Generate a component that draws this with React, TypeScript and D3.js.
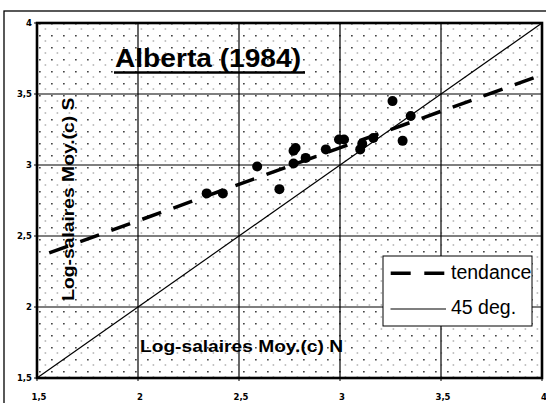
import React from "react";
import * as d3 from "d3";

const logN = [2.34, 2.42, 2.59, 2.70, 2.77, 2.77, 2.78, 2.83, 2.93, 2.995, 3.02, 3.10, 3.11, 3.165, 3.26, 3.35, 3.31];
const logS = [2.80, 2.80, 2.99, 2.83, 3.01, 3.10, 3.12, 3.05, 3.11, 3.18, 3.18, 3.11, 3.15, 3.19, 3.45, 3.345, 3.17];
const trendX = [1.5, 4];
const trendY = [2.35, 3.635];
const diagX = [1.5, 4];
const diagY = [1.5, 4];
const tickValues = [1.5, 2, 2.5, 3, 3.5, 4];
const tickLabels = ["1,5", "2", "2,5", "3", "3,5", "4"];
const title = "Alberta (1984)";
const xTitle = "Log-salaires Moy.(c) N";
const yTitle = "Log-salaires Moy.(c) S";
const legendLabels = ["tendance", "45 deg."];

export default function App() {
  const x = d3.scaleLinear().domain([1.5, 4]).range([37, 542]);
  const y = d3.scaleLinear().domain([1.5, 4]).range([378, 23]);
  const line = d3
    .line<[number, number]>()
    .x((d) => x(d[0]))
    .y((d) => y(d[1]));
  const trend = trendX.map((v, i) => [v, trendY[i]] as [number, number]);
  const diag = diagX.map((v, i) => [v, diagY[i]] as [number, number]);
  const sans = "'Liberation Sans', Arial, sans-serif";
  const tickFont = "'DejaVu Sans', Verdana, sans-serif";

  return (
    <svg
      width={546}
      height={403}
      style={{ position: "absolute", left: 0, top: 0, background: "#fff" }}
    >
      <defs>
        <pattern id="dots" patternUnits="userSpaceOnUse" x={37} y={23} width={12} height={12}>
          <rect x={2} y={-0.2} width={1.7} height={1.7} fill="#444" />
          <rect x={7.6} y={5.5} width={1.6} height={1} fill="#888" />
        </pattern>
      </defs>
      <rect x={4} y={11} width={700} height={600} fill="none" stroke="#000" strokeWidth={1.3} />
      {/* plot area */}
      <rect x={37} y={23} width={505} height={355} fill="#fff" />
      <rect x={37} y={23} width={505} height={355} fill="url(#dots)" />
      {/* gridlines */}
      {tickValues.slice(1, -1).map((v, i) => (
        <g key={"g" + i}>
          <line x1={x(v)} x2={x(v)} y1={23} y2={378} stroke="#000" strokeWidth={1.2} />
          <line x1={37} x2={542} y1={y(v)} y2={y(v)} stroke="#000" strokeWidth={1.2} />
        </g>
      ))}
      {/* 45 deg line */}
      <path d={line(diag) || ""} fill="none" stroke="#000" strokeWidth={1.2} />
      {/* trend */}
      <path
        d={line(trend) || ""}
        fill="none"
        stroke="#000"
        strokeWidth={3.5}
        strokeDasharray="20 13"
        strokeDashoffset={20}
      />
      {/* points */}
      {logN.map((v, i) => (
        <circle key={"p" + i} cx={x(v)} cy={y(logS[i])} r={5} fill="#000" />
      ))}
      {/* border */}
      <rect x={37} y={23} width={505} height={355} fill="none" stroke="#000" strokeWidth={2.6} />
      {/* ticks */}
      {tickValues.map((v, i) => (
        <g key={"t" + i}>
          <line x1={34} x2={37} y1={y(v)} y2={y(v)} stroke="#000" strokeWidth={1} />
          <line x1={x(v)} x2={x(v)} y1={378} y2={381} stroke="#000" strokeWidth={1} />
          <text
            x={32}
            y={y(v)}
            dy="0.35em"
            textAnchor="end"
            fontFamily={tickFont}
            fontWeight="bold"
            fontSize={8.5}
          >
            {tickLabels[i]}
          </text>
          <text
            x={x(v) + 2}
            y={399.5}
            textAnchor="middle"
            fontFamily={tickFont}
            fontWeight="bold"
            fontSize={8.5}
          >
            {tickLabels[i]}
          </text>
        </g>
      ))}
      {/* title */}
      <text
        x={115}
        y={67.3}
        fontFamily={sans}
        fontWeight="bold"
        fontSize={26.5}
        textLength={186}
        lengthAdjust="spacingAndGlyphs"
      >
        {title}
      </text>
      <line x1={114} x2={305} y1={72.5} y2={72.5} stroke="#000" strokeWidth={2.6} />
      {/* axis titles */}
      <text
        x={140}
        y={351.7}
        fontFamily={sans}
        fontWeight="bold"
        fontSize={17}
        textLength={203}
        lengthAdjust="spacingAndGlyphs"
      >
        {xTitle}
      </text>
      <text
        transform="translate(74,300.7) rotate(-90)"
        x={0}
        y={0}
        fontFamily={sans}
        fontWeight="bold"
        fontSize={17}
        textLength={203}
        lengthAdjust="spacingAndGlyphs"
      >
        {yTitle}
      </text>
      {/* legend */}
      <rect x={383} y={256} width={149} height={70} fill="#fff" stroke="#000" strokeWidth={1} />
      <line
        x1={390.7}
        x2={444.3}
        y1={273.3}
        y2={273.3}
        stroke="#000"
        strokeWidth={3.4}
        strokeDasharray="20 13.6 20"
      />
      <line x1={390.5} x2={446} y1={309} y2={309} stroke="#000" strokeWidth={1.2} />
      <text x={451} y={278.5} fontFamily={sans} fontSize={19.5}>
        {legendLabels[0]}
      </text>
      <text x={451} y={313.5} fontFamily={sans} fontSize={19.5}>
        {legendLabels[1]}
      </text>
    </svg>
  );
}
